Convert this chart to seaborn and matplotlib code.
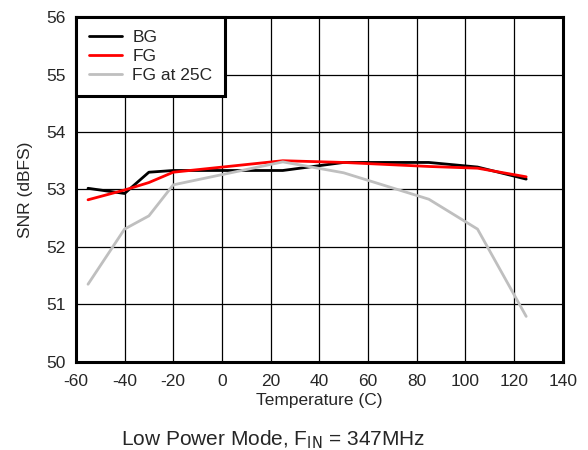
import seaborn as sns
import pandas as pd
import matplotlib.pyplot as plt

temps = [-55, -40, -30, -20, 25, 50, 85, 105, 125]
snr_bg = [53.02, 52.93, 53.30, 53.33, 53.33, 53.47, 53.47, 53.39, 53.18]
snr_fg = [52.82, 52.99, 53.12, 53.30, 53.50, 53.47, 53.40, 53.37, 53.22]
snr_fg25 = [51.35, 52.31, 52.54, 53.08, 53.48, 53.29, 52.83, 52.31, 50.79]

df = pd.concat([
    pd.DataFrame({'Temp': temps, 'SNR': snr_bg, 'Series': 'BG'}),
    pd.DataFrame({'Temp': temps, 'SNR': snr_fg, 'Series': 'FG'}),
    pd.DataFrame({'Temp': temps, 'SNR': snr_fg25, 'Series': 'FG at 25C'}),
])

sns.set_style("white")
plt.rcParams['font.family'] = ['Liberation Sans', 'DejaVu Sans']
plt.rcParams['axes.unicode_minus'] = False

fig = plt.figure(figsize=(5.88, 4.5), dpi=100)
ax = fig.add_axes([0.129, 0.196, 0.828, 0.766])

colors = {'BG': '#000000', 'FG': '#ff0000', 'FG at 25C': '#bfbfbf'}
sns.lineplot(data=df, x='Temp', y='SNR', hue='Series', palette=colors,
             linewidth=2, ax=ax, sort=False)

ax.set_xlim(-60, 140)
ax.set_ylim(50, 56)
ax.set_xticks(range(-60, 141, 20))
ax.set_yticks(range(50, 57))
ax.grid(True, color='black', linewidth=0.9)
ax.set_axisbelow(True)
for s in ax.spines.values():
    s.set_color('black')
    s.set_linewidth(2.2)
ax.tick_params(axis='x', labelsize=12.5, length=0, pad=9)
ax.tick_params(axis='y', labelsize=12.5, length=0, pad=7)
ax.set_xlabel('Temperature (C)', fontsize=12.5, labelpad=3)
ax.set_ylabel('SNR (dBFS)', fontsize=12.5, labelpad=10)

leg = ax.legend(loc='upper left', fontsize=12.5, frameon=True, fancybox=False,
                borderaxespad=0, handlelength=1.9, handletextpad=0.6,
                labelspacing=0.22, borderpad=0.75)
leg.get_frame().set_edgecolor('black')
leg.get_frame().set_linewidth(2.2)
leg.get_frame().set_alpha(1)

fig.text(0.464, 0.011, 'Low Power Mode, F$_{\\mathrm{IN}}$ = 347MHz',
         ha='center', va='baseline', fontsize=15)

fig.savefig('out.png', dpi=100)
